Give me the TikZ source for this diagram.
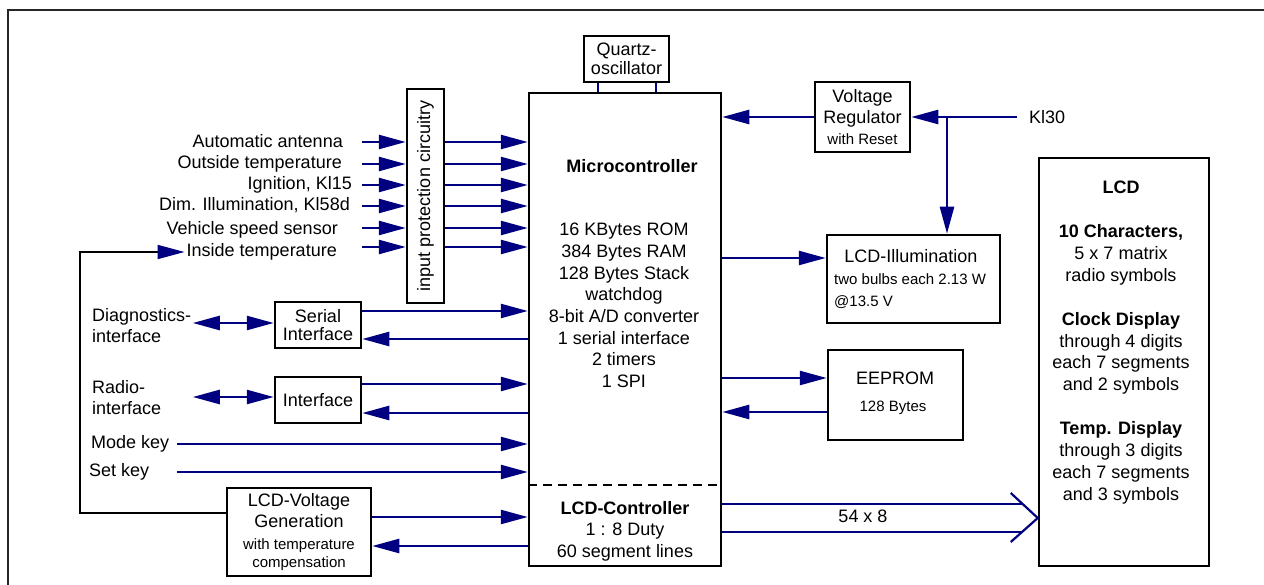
\documentclass[tikz,border=0pt]{standalone}
\usepackage{fontspec}
\setmainfont{Liberation Sans}
\usetikzlibrary{arrows.meta,calc}
\definecolor{navyb}{RGB}{0,0,128}
\begin{document}
\begin{tikzpicture}[x=1pt,y=-1pt,
  big/.style={inner sep=0pt, font=\fontsize{18}{21.7}\selectfont},
  small/.style={inner sep=0pt, font=\fontsize{15}{18}\selectfont},
  box/.style={draw=black, line width=2.5pt, inner sep=0pt, align=center, font=\fontsize{18}{21}\selectfont},
  lab/.style={inner sep=0pt, font=\fontsize{18}{21.7}\selectfont, text height=13pt, text depth=4pt},
  sig/.style={draw=navyb, line width=2.5pt},
  arr/.style={sig, -{Triangle[length=27pt,width=14pt]}},
  darr/.style={sig, {Triangle[length=27pt,width=14pt]}-{Triangle[length=27pt,width=14pt]}},
  busline/.style={draw=navyb, line width=2.2pt},
]
\useasboundingbox (0,0) rectangle (1264,585);
% outer frame
\draw[line width=1.5pt, black!85] (1264,10) -- (8,10) -- (8,585);

% boxes
\node[box, minimum width=85pt, minimum height=46pt, font=\fontsize{18}{19}\selectfont] (q) at (626.5,59) {Quartz-\\oscillator};
\node[box, minimum width=37pt, minimum height=214pt] (prot) at (425.5,196) {};
\node[big, rotate=90] (prott) at (prot.center) {input protection circuitry};
\node[box, minimum width=192pt, minimum height=473pt] (mc) at (625,329.5) {};
\node[box, minimum width=95pt, minimum height=70pt] (vr) at (862.5,117) {Voltage\\Regulator\\{\fontsize{15}{18}\selectfont with Reset}};
\node[box, minimum width=173pt, minimum height=88pt] (ill) at (913.5,279) {};
\node[box, minimum width=135pt, minimum height=90pt] (eep) at (895.5,395) {};
\node[box, minimum width=170pt, minimum height=408pt] (lcd) at (1124,362) {};
\node[box, minimum width=86pt, minimum height=46pt, font=\fontsize{18}{18}\selectfont] (si) at (318,325) {Serial\\Interface};
\node[box, minimum width=86pt, minimum height=46pt] (ifc) at (318,400) {Interface};
\node[box, minimum width=144pt, minimum height=88pt] (lcdv) at (299,532) {LCD-Voltage\\Generation\\[1pt]{\fontsize{15}{18}\selectfont with temperature}\\[-3pt]{\fontsize{15}{18}\selectfont compensation}};

% microcontroller texts
\node[big, font=\bfseries\fontsize{18}{21.7}\selectfont] (mct) at (632,166) {Microcontroller};
\node[big, align=center, anchor=north] (mcs) at (624,223) {16 KBytes ROM\\384 Bytes RAM\\128 Bytes Stack\\watchdog\\8-bit A/D converter\\1 serial interface\\2 timers\\1 SPI};
\draw[black, line width=2pt, dash pattern=on 9pt off 6pt] (mc.west |- 0,485) -- (mc.east |- 0,485);
\node[big, align=center, anchor=north, font=\fontsize{18}{21.5}\selectfont] (lcdc) at (625,501) {\textbf{LCD-Controller}\\1 : 8 Duty\\60 segment lines};

% LCD-Illumination and EEPROM texts
\node[big] (illt) at (911,256) {LCD-Illumination};
\node[small, anchor=north west, align=left, font=\fontsize{15}{22}\selectfont] (illd) at (834,273) {two bulbs each 2.13 W\\@13.5 V};
\node[big] (eept) at (895,378) {EEPROM};
\node[small] (eepd) at (893,408) {128 Bytes};

% LCD texts
\node[big, align=center, anchor=north, font=\fontsize{18}{21.9}\selectfont] (lcdt) at (1121,181) {\textbf{LCD}\\[21.9pt]\textbf{10 Characters,}\\5 x 7 matrix\\radio symbols\\[21.9pt]\textbf{Clock Display}\\through 4 digits\\each 7 segments\\and 2 symbols\\[21.9pt]\textbf{Temp. Display}\\through 3 digits\\each 7 segments\\and 3 symbols};

% input labels
\node[lab, anchor=east] (a1) at (343,143) {Automatic antenna};
\node[lab, anchor=east] (a2) at (342,164) {Outside temperature};
\node[lab, anchor=east] (a3) at (352,185) {Ignition, Kl15};
\node[lab, anchor=east] (a4) at (350,206) {Dim. Illumination, Kl58d};
\node[lab, anchor=east] (a5) at (338,230) {Vehicle speed sensor};
\node[lab, anchor=east] (a6) at (337,252) {Inside temperature};

\coordinate (ix) at (362,0);
\foreach \yy in {142,164,185,206,228,247} {
  \draw[arr] (ix |- 0,\yy) -- (prot.west |- 0,\yy);
  \draw[arr] (prot.east |- 0,\yy) -- (mc.west |- 0,\yy);
}

% left labels
\node[big, align=left, anchor=north west] (diag) at (92,308) {Diagnostics-\\interface};
\node[big, align=left, anchor=north west] (radio) at (92,380) {Radio-\\interface};
\node[lab, anchor=west] (mode) at (91,444) {Mode key};
\node[lab, anchor=west] (setk) at (89,472) {Set key};

\draw[darr] (si.west |- 0,323) -- ++(-81,0);
\draw[darr] (ifc.west |- 0,397) -- ++(-81,0);

\coordinate (kx) at (177,0);
\draw[arr] (kx |- mode.east) -- (mc.west |- mode.east);
\draw[arr] (kx |- setk.east) -- (mc.west |- setk.east);

\draw[arr] (si.east |- 0,311) -- (mc.west |- 0,311);
\draw[arr] (mc.west |- 0,339) -- (si.east |- 0,339);
\draw[arr] (ifc.east |- 0,384) -- (mc.west |- 0,384);
\draw[arr] (mc.west |- 0,413) -- (ifc.east |- 0,413);
\draw[arr] (lcdv.east |- 0,517) -- (mc.west |- 0,517);
\draw[arr] (mc.west |- 0,546) -- (lcdv.east |- 0,546);

% feedback line
\draw[black, line width=2pt, -{Triangle[length=27pt,width=14pt,color=navyb]}, shorten >=2pt] (lcdv.west |- 0,513) -- (80,513) |- (a6.west);

% quartz legs
\foreach \xx in {598,656} \draw[sig] (q.south -| \xx,0) -- (mc.north -| \xx,0);

% right side
\draw[arr] (vr.west) -- (mc.east |- vr.west);
\coordinate (k30) at (1017,117);
\node[lab, anchor=west] (k30l) at (1029,119) {Kl30};
\draw[arr] (k30) -- (vr.east);
\coordinate (j) at (947,117);
\draw[arr] (j) -- (j |- ill.north);
\draw[arr] (mc.east |- 0,258) -- (ill.west |- 0,258);
\draw[arr] (mc.east |- 0,378) -- (eep.west |- 0,378);
\draw[arr] (eep.west |- 0,412) -- (mc.east |- 0,412);

% bus
\coordinate (bt) at (lcd.west |- 0,518);
\draw[busline] (mc.east |- 0,504) -- ($(bt)+(-15,-14)$);
\draw[busline] (mc.east |- 0,532) -- ($(bt)+(-15,14)$);
\draw[busline] ($(bt)+(-27,-25)$) -- (bt) -- ($(bt)+(-27,24)$);
\node[big] (busl) at (863,516) {54 x 8};
\end{tikzpicture}
\end{document}
